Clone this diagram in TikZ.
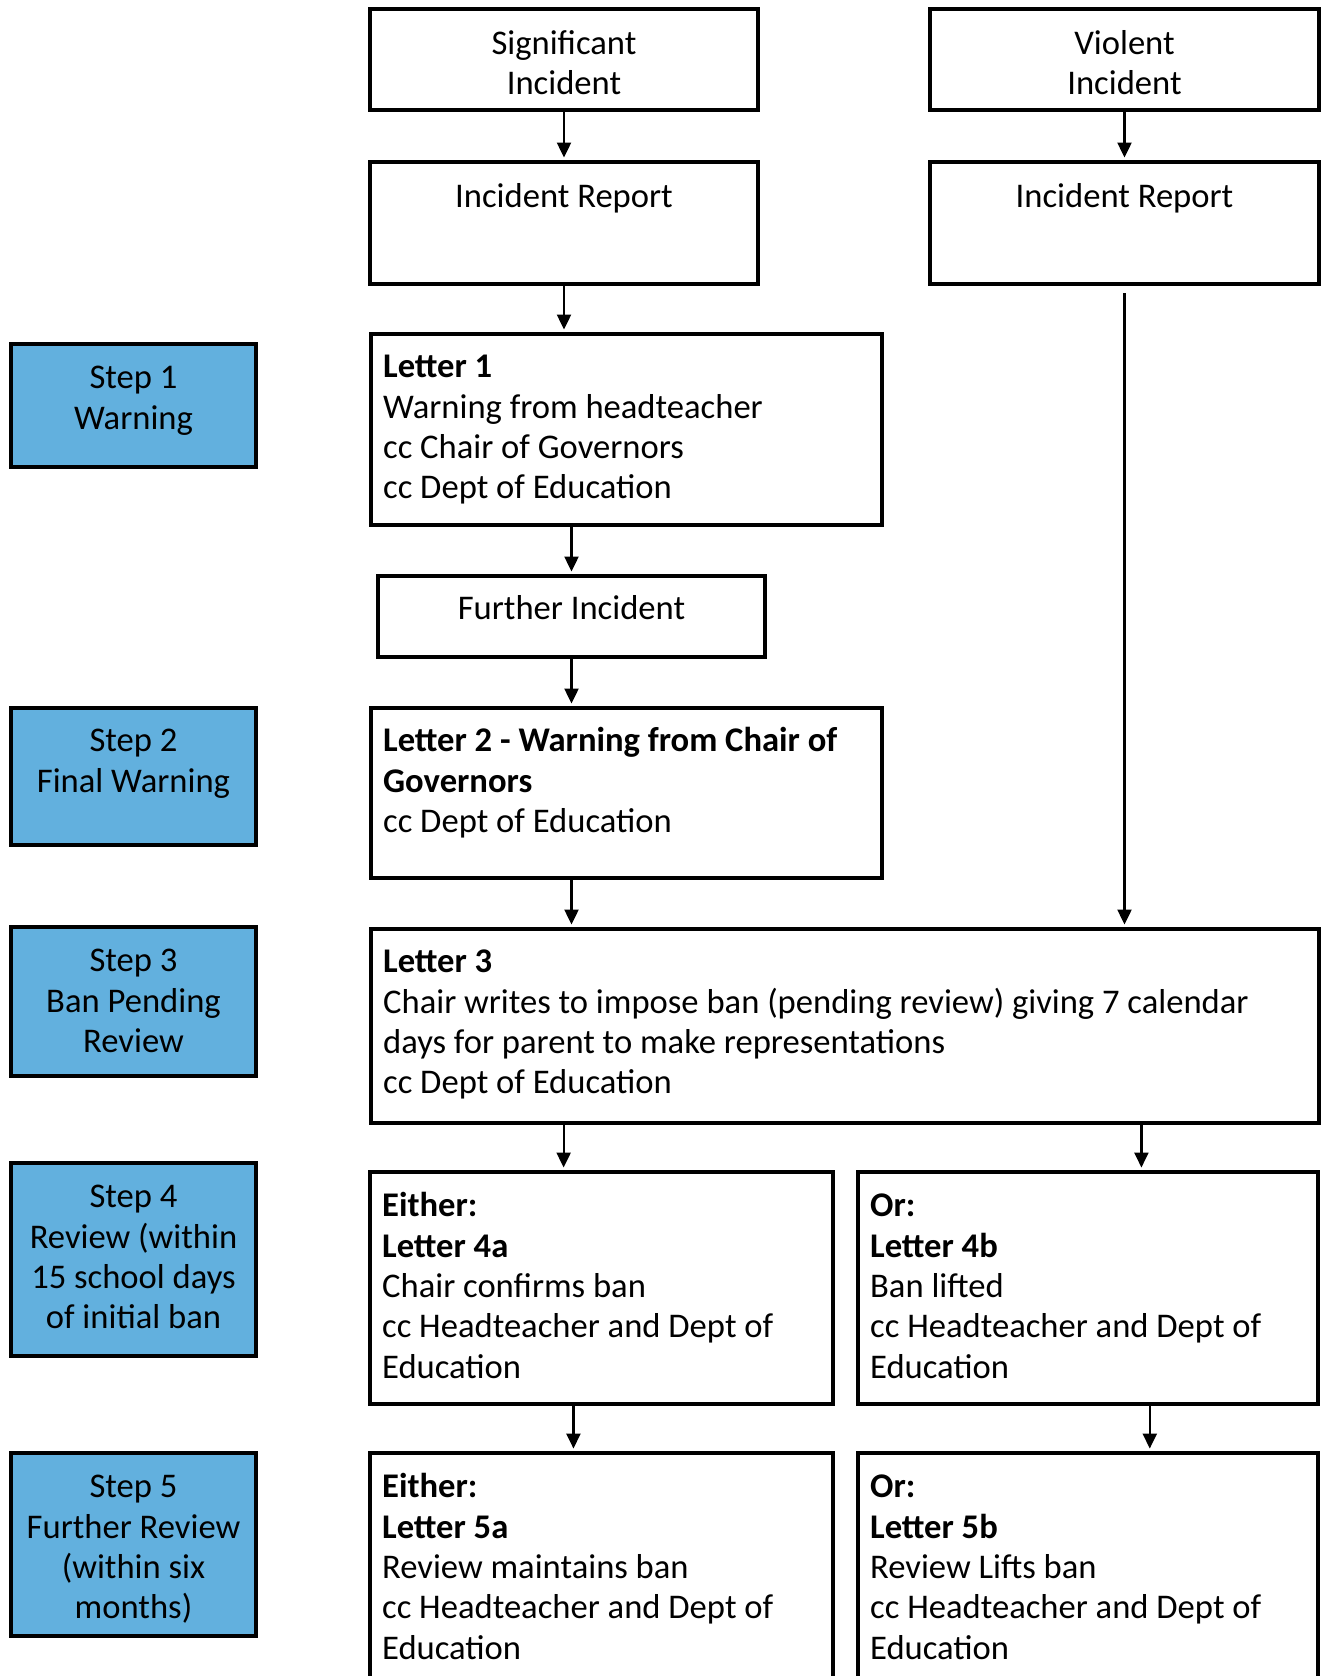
\documentclass[tikz,border=0pt]{standalone}
\usepackage{fontspec}
\setmainfont{Carlito}
\usetikzlibrary{arrows.meta,calc,fit}
\definecolor{stepblue}{RGB}{98,176,222}
\newcommand{\fl}{\rule{0pt}{14pt}}
\tikzset{
  box/.style={draw=black, line width=2.25pt, rectangle, inner sep=0pt},
  stepbox/.style={box, fill=stepblue},
  ltxt/.style={align=left, inner sep=0pt, anchor=north west,
    font=\fontsize{17.3}{20.2}\selectfont},
  ctxt/.style={align=center, inner sep=0pt, anchor=north,
    font=\fontsize{17.3}{20.2}\selectfont},
  arr/.style={line width=1.1pt, -{Triangle[length=7.5pt,width=7pt]}, shorten >=1.1pt}
}
\begin{document}
\begin{tikzpicture}[x=0.5pt,y=-0.5pt]
\useasboundingbox (0,0) rectangle (1322,1676);
\clip (0,0) rectangle (1322,1676);
% top boxes
\node[box, fit={(370,9) (758,110)}] (sig) {};
\node[box, fit={(930,9) (1319,110)}] (vio) {};
\node[box, fit={(370,162) (758,284)}] (ir1) {};
\node[box, fit={(930,162) (1319,284)}] (ir2) {};
% letters
\node[box, fit={(371,334) (882,525)}] (l1) {};
\node[box, fit={(378,576) (765,657)}] (fi) {};
\node[box, fit={(371,708) (882,878)}] (l2) {};
\node[box, fit={(371,929) (1319,1123)}] (l3) {};
\node[box, fit={(370,1172) (833,1404)}] (l4a) {};
\node[box, fit={(858,1172) (1318,1404)}] (l4b) {};
\node[box, fit={(370,1453) (833,1730)}] (l5a) {};
\node[box, fit={(858,1453) (1318,1730)}] (l5b) {};
% steps
\node[stepbox, fit={(11,344) (256,467)}] (s1) {};
\node[stepbox, fit={(11,708) (256,845)}] (s2) {};
\node[stepbox, fit={(11,927) (256,1076)}] (s3) {};
\node[stepbox, fit={(11,1163) (256,1356)}] (s4) {};
\node[stepbox, fit={(11,1453) (256,1636)}] (s5) {};
% texts
\node[ctxt] (tsig) at ($(sig.north)+(0,19)$) {\fl Significant\\Incident};
\node[ctxt] (tvio) at ($(vio.north)+(0,19)$) {\fl Violent\\Incident};
\node[ctxt] (tir1) at ($(ir1.north)+(0,19)$) {\fl Incident Report};
\node[ctxt] (tir2) at ($(ir2.north)+(0,19)$) {\fl Incident Report};
\node[ctxt] (tfi) at ($(fi.north)+(0,17.8)$) {\fl Further Incident};
\node[ltxt] (tl1) at ($(l1.north west)+(14,17.5)$) {\fl\textbf{Letter 1}\\Warning from headteacher\\cc Chair of Governors\\cc Dept of Education};
\node[ltxt] (tl2) at ($(l2.north west)+(14,17.5)$) {\fl\textbf{Letter 2 - Warning from Chair of}\\\textbf{Governors}\\cc Dept of Education};
\node[ltxt] (tl3) at ($(l3.north west)+(14,17.5)$) {\fl\textbf{Letter 3}\\Chair writes to impose ban (pending review) giving 7 calendar\\days for parent to make representations\\cc Dept of Education};
\node[ltxt] (tl4a) at ($(l4a.north west)+(14,18.5)$) {\fl\textbf{Either:}\\\textbf{Letter 4a}\\Chair confirms ban\\cc Headteacher and Dept of\\Education};
\node[ltxt] (tl4b) at ($(l4b.north west)+(14,18.5)$) {\fl\textbf{Or:}\\\textbf{Letter 4b}\\Ban lifted\\cc Headteacher and Dept of\\Education};
\node[ltxt] (tl5a) at ($(l5a.north west)+(14,18.5)$) {\fl\textbf{Either:}\\\textbf{Letter 5a}\\Review maintains ban\\cc Headteacher and Dept of\\Education};
\node[ltxt] (tl5b) at ($(l5b.north west)+(14,18.5)$) {\fl\textbf{Or:}\\\textbf{Letter 5b}\\Review Lifts ban\\cc Headteacher and Dept of\\Education};
\node[ctxt] (ts1) at ($(s1.north)+(0,18.5)$) {\fl Step 1\\Warning};
\node[ctxt] (ts2) at ($(s2.north)+(0,17.5)$) {\fl Step 2\\Final Warning};
\node[ctxt] (ts3) at ($(s3.north)+(0,18.5)$) {\fl Step 3\\Ban Pending\\Review};
\node[ctxt] (ts4) at ($(s4.north)+(0,18.5)$) {\fl Step 4\\Review (within\\15 school days\\of initial ban};
\node[ctxt] (ts5) at ($(s5.north)+(0,18.5)$) {\fl Step 5\\Further Review\\(within six\\months)};
% connector anchors
\coordinate (a4a) at ($(l4a.north west)!0.419!(l4a.north east)$);
\coordinate (a4b) at ($(l4b.north west)!0.615!(l4b.north east)$);
\coordinate (a5a) at ($(l5a.north west)!0.44!(l5a.north east)$);
\coordinate (a5b) at ($(l5b.north west)!0.633!(l5b.north east)$);
% connectors
\draw[arr] (sig.south) -- (ir1.north);
\draw[arr] (vio.south) -- (ir2.north);
\draw[arr] (ir1.south) -- (ir1.south |- l1.north);
\draw[arr] (l1.south -| fi.north) -- (fi.north);
\draw[arr] (fi.south) -- (fi.south |- l2.north);
\draw[arr] (fi.south |- l2.south) -- (fi.south |- l3.north);
\draw[arr, shorten <=3.5pt] (ir2.south) -- (ir2.south |- l3.north);
\draw[arr] (l3.south -| a4a) -- (a4a);
\draw[arr] (l3.south -| a4b) -- (a4b);
\draw[arr] (l4a.south -| a5a) -- (a5a);
\draw[arr] (l4b.south -| a5b) -- (a5b);
\end{tikzpicture}
\end{document}
